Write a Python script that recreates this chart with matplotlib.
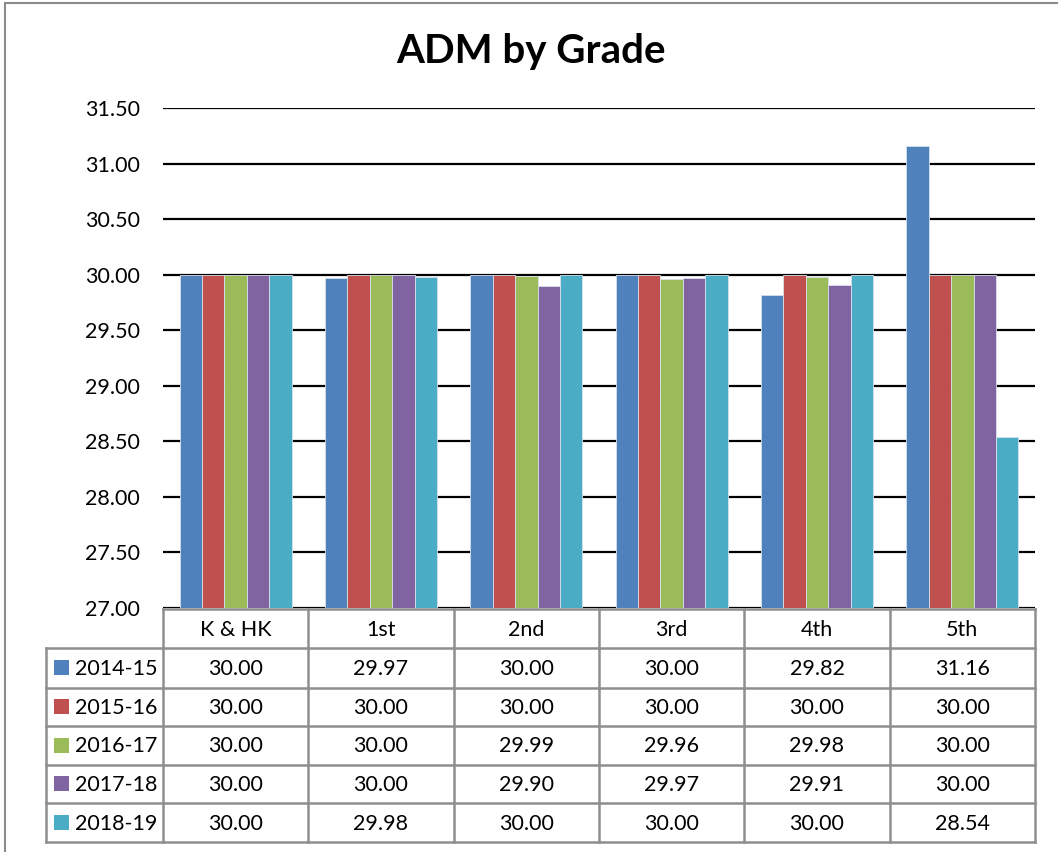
import matplotlib
matplotlib.use("Agg")
import matplotlib.pyplot as plt
from matplotlib.patches import Rectangle
from matplotlib.lines import Line2D

plt.rcParams['font.family'] = ['Lato', 'DejaVu Sans']

categories = ["K & HK", "1st", "2nd", "3rd", "4th", "5th"]
series = ["2014-15", "2015-16", "2016-17", "2017-18", "2018-19"]
v2014 = [30.00, 29.97, 30.00, 30.00, 29.82, 31.16]
v2015 = [30.00, 30.00, 30.00, 30.00, 30.00, 30.00]
v2016 = [30.00, 30.00, 29.99, 29.96, 29.98, 30.00]
v2017 = [30.00, 30.00, 29.90, 29.97, 29.91, 30.00]
v2018 = [30.00, 29.98, 30.00, 30.00, 30.00, 28.54]
values = [v2014, v2015, v2016, v2017, v2018]
colors = ["#4F81BD", "#C0504D", "#9BBB59", "#8064A2", "#4BACC6"]
yticks = [27.0, 27.5, 28.0, 28.5, 29.0, 29.5, 30.0, 30.5, 31.0, 31.5]

W, H = 1058, 852
fig = plt.figure(figsize=(W / 100, H / 100), dpi=100)

def fx(px):
    return px / W

def fy(py):
    return 1 - py / H

# outer frame
fig.patches.append(Rectangle((fx(4.5), fy(900)), fx(1100), (900 - 3) / H,
                             transform=fig.transFigure, fill=False,
                             edgecolor="#8c8c8c", lw=1.5))

# plot area
L, R, T, B = 163, 1035, 108, 608
ax = fig.add_axes([fx(L), fy(B), fx(R - L), (B - T) / H])
n = len(categories)
ax.set_xlim(0, n)
ax.set_ylim(27.0, 31.5)
bw = 1 / 6.5
for j, (s, vals, c) in enumerate(zip(series, values, colors)):
    xs = [i + 0.5 + (j - 2) * bw for i in range(n)]
    ax.bar(xs, [v - 27.0 for v in vals], bottom=27.0, width=bw, color=c,
           edgecolor="#d8e0ea", linewidth=0.6, zorder=3, label=s)
ax.set_yticks(yticks)
ax.set_yticklabels([f"{t:.2f}" for t in yticks], fontsize=15.5)
ax.tick_params(axis='y', length=0, pad=16.5)
ax.set_xticks([])
ax.yaxis.grid(True, color="black", lw=1.6, zorder=1)
ax.set_axisbelow(True)
for sp in ax.spines.values():
    sp.set_visible(False)

# title
fig.text(fx(531), fy(51), "ADM by Grade", ha="center", va="center",
         fontsize=29, fontweight="bold")

# data table
tab = fig.add_axes([0, 0, 1, 1], facecolor="none")
tab.set_xlim(0, W)
tab.set_ylim(H, 0)
tab.axis("off")
gc = "#8f8f8f"
lw = 1.8
colx = [L + (R - L) * i / n for i in range(n + 1)]
rowy = [609, 648, 687.5, 726, 764.5, 803, 842]
legx = 45.5
# horizontal lines
tab.add_line(Line2D([L, R], [rowy[0], rowy[0]], color=gc, lw=lw))
for y in rowy[1:]:
    tab.add_line(Line2D([legx, R], [y, y], color=gc, lw=lw))
# vertical lines
tab.add_line(Line2D([legx, legx], [rowy[1], rowy[-1]], color=gc, lw=lw))
for x in colx:
    tab.add_line(Line2D([x, x], [rowy[0], rowy[-1]], color=gc, lw=lw))
# header text
for i, cat in enumerate(categories):
    tab.text((colx[i] + colx[i + 1]) / 2, (rowy[0] + rowy[1]) / 2 + 1, cat,
             ha="center", va="center", fontsize=15.5)
# rows
for j, (s, vals, c) in enumerate(zip(series, values, colors)):
    yc = (rowy[j + 1] + rowy[j + 2]) / 2
    tab.add_patch(Rectangle((54, yc - 7.5), 15, 15, facecolor=c, edgecolor="none"))
    tab.text(75, yc + 1, s, ha="left", va="center", fontsize=15.5)
    for i, v in enumerate(vals):
        tab.text((colx[i] + colx[i + 1]) / 2, yc + 1, f"{v:.2f}",
                 ha="center", va="center", fontsize=15.5)

fig.savefig("out.png", dpi=100)
